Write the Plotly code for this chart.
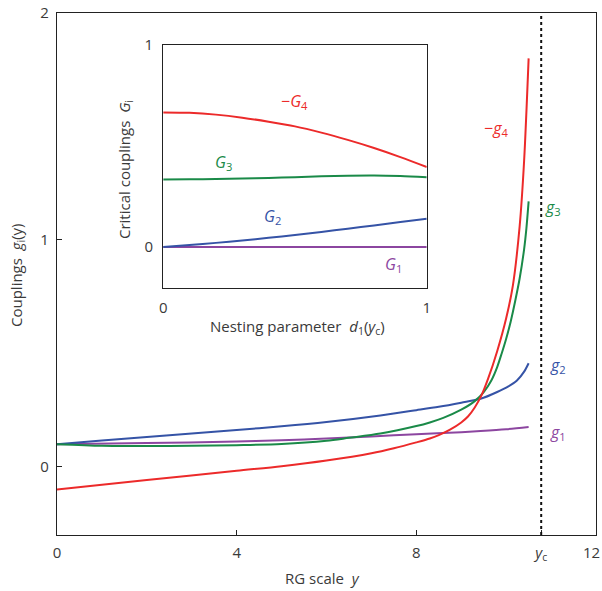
import plotly.graph_objects as go

# ---- main panel data (RG scale y) ----
y_g4 = [0, 2, 4, 5, 6, 7, 7.5, 8, 8.3, 8.5, 8.75, 9.0, 9.15, 9.3, 9.45, 9.6, 9.8, 10.0, 10.15, 10.3, 10.4, 10.5]
neg_g4 = [-0.10, -0.058, -0.017, 0.003, 0.028, 0.06, 0.082, 0.108, 0.125, 0.14, 0.164, 0.196, 0.222, 0.262, 0.315, 0.39, 0.51, 0.655, 0.80, 1.06, 1.35, 1.80]

y_g3 = [0, 1, 2, 3, 4, 5, 6, 6.5, 7.2, 8, 8.3, 8.6, 9.0, 9.3, 9.5, 9.67, 9.8, 9.9, 10.0, 10.1, 10.2, 10.3, 10.4, 10.45, 10.5]
g3 = [0.10, 0.093, 0.092, 0.093, 0.096, 0.101, 0.115, 0.128, 0.147, 0.18, 0.196, 0.216, 0.252, 0.29, 0.33, 0.381, 0.44, 0.50, 0.565, 0.64, 0.73, 0.83, 0.96, 1.05, 1.17]

y_g2 = [0, 1, 2, 3, 4, 5, 6, 7.2, 8, 8.5, 9.0, 9.43, 9.8, 10.05, 10.24, 10.4, 10.5]
g2 = [0.10, 0.116, 0.132, 0.147, 0.163, 0.179, 0.198, 0.227, 0.25, 0.265, 0.283, 0.30, 0.33, 0.355, 0.381, 0.42, 0.457]

y_g1 = [0, 2, 4, 5, 6, 7, 8, 9, 9.43, 10, 10.5]
g1 = [0.10, 0.105, 0.112, 0.117, 0.125, 0.134, 0.144, 0.153, 0.158, 0.166, 0.176]

y_c = 10.78

x_ticks = [0, 4, 8, y_c, 12]
x_ticktext = ["0", "4", "8", "<i>y</i><sub>c</sub>", ""]
x_last_label = "12"
y_ticks = [0, 1, 2]

# ---- inset data (nesting parameter) ----
d1 = [0, 0.1, 0.2, 0.3, 0.4, 0.5, 0.6, 0.7, 0.8, 0.9, 1.0]
neg_G4 = [0.666, 0.664, 0.655, 0.64, 0.62, 0.597, 0.566, 0.53, 0.49, 0.445, 0.396]
G3 = [0.334, 0.335, 0.337, 0.339, 0.342, 0.346, 0.350, 0.353, 0.354, 0.351, 0.345]
G2 = [0.0, 0.01, 0.021, 0.033, 0.046, 0.06, 0.075, 0.091, 0.107, 0.124, 0.14]
G1 = [0.0, 0.0, 0.0, 0.0, 0.0, 0.0, 0.0, 0.0, 0.0, 0.0, 0.0]

RED = "#EC2A2A"
GREEN = "#1A8A48"
BLUE = "#3553A6"
PURPLE = "#8C46A0"
TXT = "#3a3a3a"
FONT = "Open Sans"

fig = go.Figure()

def add(x, y, color, xa="x", ya="y"):
    fig.add_trace(go.Scatter(x=x, y=y, mode="lines", xaxis=xa, yaxis=ya,
                             line=dict(color=color, width=2, shape="spline", smoothing=0.8),
                             showlegend=False, hoverinfo="skip"))

add(y_g1, g1, PURPLE)
add(y_g2, g2, BLUE)
add(y_g3, g3, GREEN)
add(y_g4, neg_g4, RED)

add(d1, G1, PURPLE, "x2", "y2")
add(d1, G2, BLUE, "x2", "y2")
add(d1, G3, GREEN, "x2", "y2")
add(d1, neg_G4, RED, "x2", "y2")

axis_common = dict(showgrid=False, zeroline=False, showline=True, mirror=True,
                   linecolor="#222222", linewidth=1.3, automargin=False,
                   ticklabeloverflow="allow",
                   tickfont=dict(family=FONT, size=15, color=TXT))

L, R, T, B = 57, 6, 13, 56
W, H = 602 - L - R, 591 - T - B

fig.update_layout(
    width=602, height=591,
    margin=dict(l=L, r=R, t=T, b=B, autoexpand=False),
    paper_bgcolor="white", plot_bgcolor="white",
    xaxis=dict(range=[0, 12], tickvals=x_ticks, ticktext=x_ticktext,
               ticks="inside", ticklen=5, tickcolor="#222222",
               ticklabelstandoff=4, **axis_common),
    yaxis=dict(range=[-0.3, 2], tickvals=y_ticks, ticks="inside", ticklen=5,
               tickcolor="#222222", ticklabelstandoff=4, **axis_common),
    xaxis2=dict(domain=[0.197, 0.686], anchor="y2", range=[0, 1], tickvals=[0, 1],
                ticks="", ticklabelstandoff=6, **axis_common),
    yaxis2=dict(domain=[0.474, 0.939], anchor="x2", range=[-0.2, 1], tickvals=[0, 1],
                ticks="", ticklabelstandoff=6, **axis_common),
)

# inset white background
fig.add_shape(type="rect", xref="x2 domain", yref="y2 domain", x0=0, x1=1, y0=0, y1=1,
              fillcolor="white", line=dict(width=0), layer="below")

# critical scale line
fig.add_shape(type="line", xref="x", yref="y", x0=y_c, x1=y_c, y0=-0.3, y1=2,
              line=dict(color="#111111", width=2, dash="dot"))

def ann(text, x, y, color, xref="x", yref="y", size=16, angle=0, xanchor="center"):
    fig.add_annotation(text=text, x=x, y=y, xref=xref, yref=yref, showarrow=False,
                       xanchor=xanchor, yanchor="middle",
                       textangle=angle, font=dict(family=FONT, size=size, color=color))

# curve labels main (data coords)
ann("−<i>g</i><sub>4</sub>", 9.78, 1.49, RED)
ann("<i>g</i><sub>3</sub>", 11.05, 1.145, GREEN)
ann("<i>g</i><sub>2</sub>", 11.16, 0.447, BLUE)
ann("<i>g</i><sub>1</sub>", 11.16, 0.153, PURPLE)
# inset labels (inset data coords)
ann("−<i>G</i><sub>4</sub>", 0.50, 0.72, RED, "x2", "y2")
ann("<i>G</i><sub>3</sub>", 0.227, 0.418, GREEN, "x2", "y2")
ann("<i>G</i><sub>2</sub>", 0.416, 0.151, BLUE, "x2", "y2")
ann("<i>G</i><sub>1</sub>", 0.872, -0.085, PURPLE, "x2", "y2")

# axis titles (pixel -> paper)
def px(xp, yp):
    return (xp - L) / W, (591 - B - yp) / H

x, y = px(602, 552)
ann(x_last_label, x, y, TXT, "paper", "paper", size=15, xanchor="right")
x, y = px(322, 578)
ann("RG scale  <i>y</i>", x, y, TXT, "paper", "paper", size=15)
x, y = px(17, 275)
ann("Couplings  <i>g</i><sub>i</sub>(y)", x, y, TXT, "paper", "paper", size=15, angle=-90)
x, y = px(125, 170)
ann("Critical couplings  <i>G</i><sub>i</sub>", x, y, TXT, "paper", "paper", size=15, angle=-90)
x, y = px(297, 327)
ann("Nesting parameter  <i>d</i><sub>1</sub>(<i>y</i><sub>c</sub>)", x, y, TXT, "paper", "paper", size=15)

fig.write_html("out.html", config={"displayModeBar": False},
               post_script="document.body.style.margin='0';")
